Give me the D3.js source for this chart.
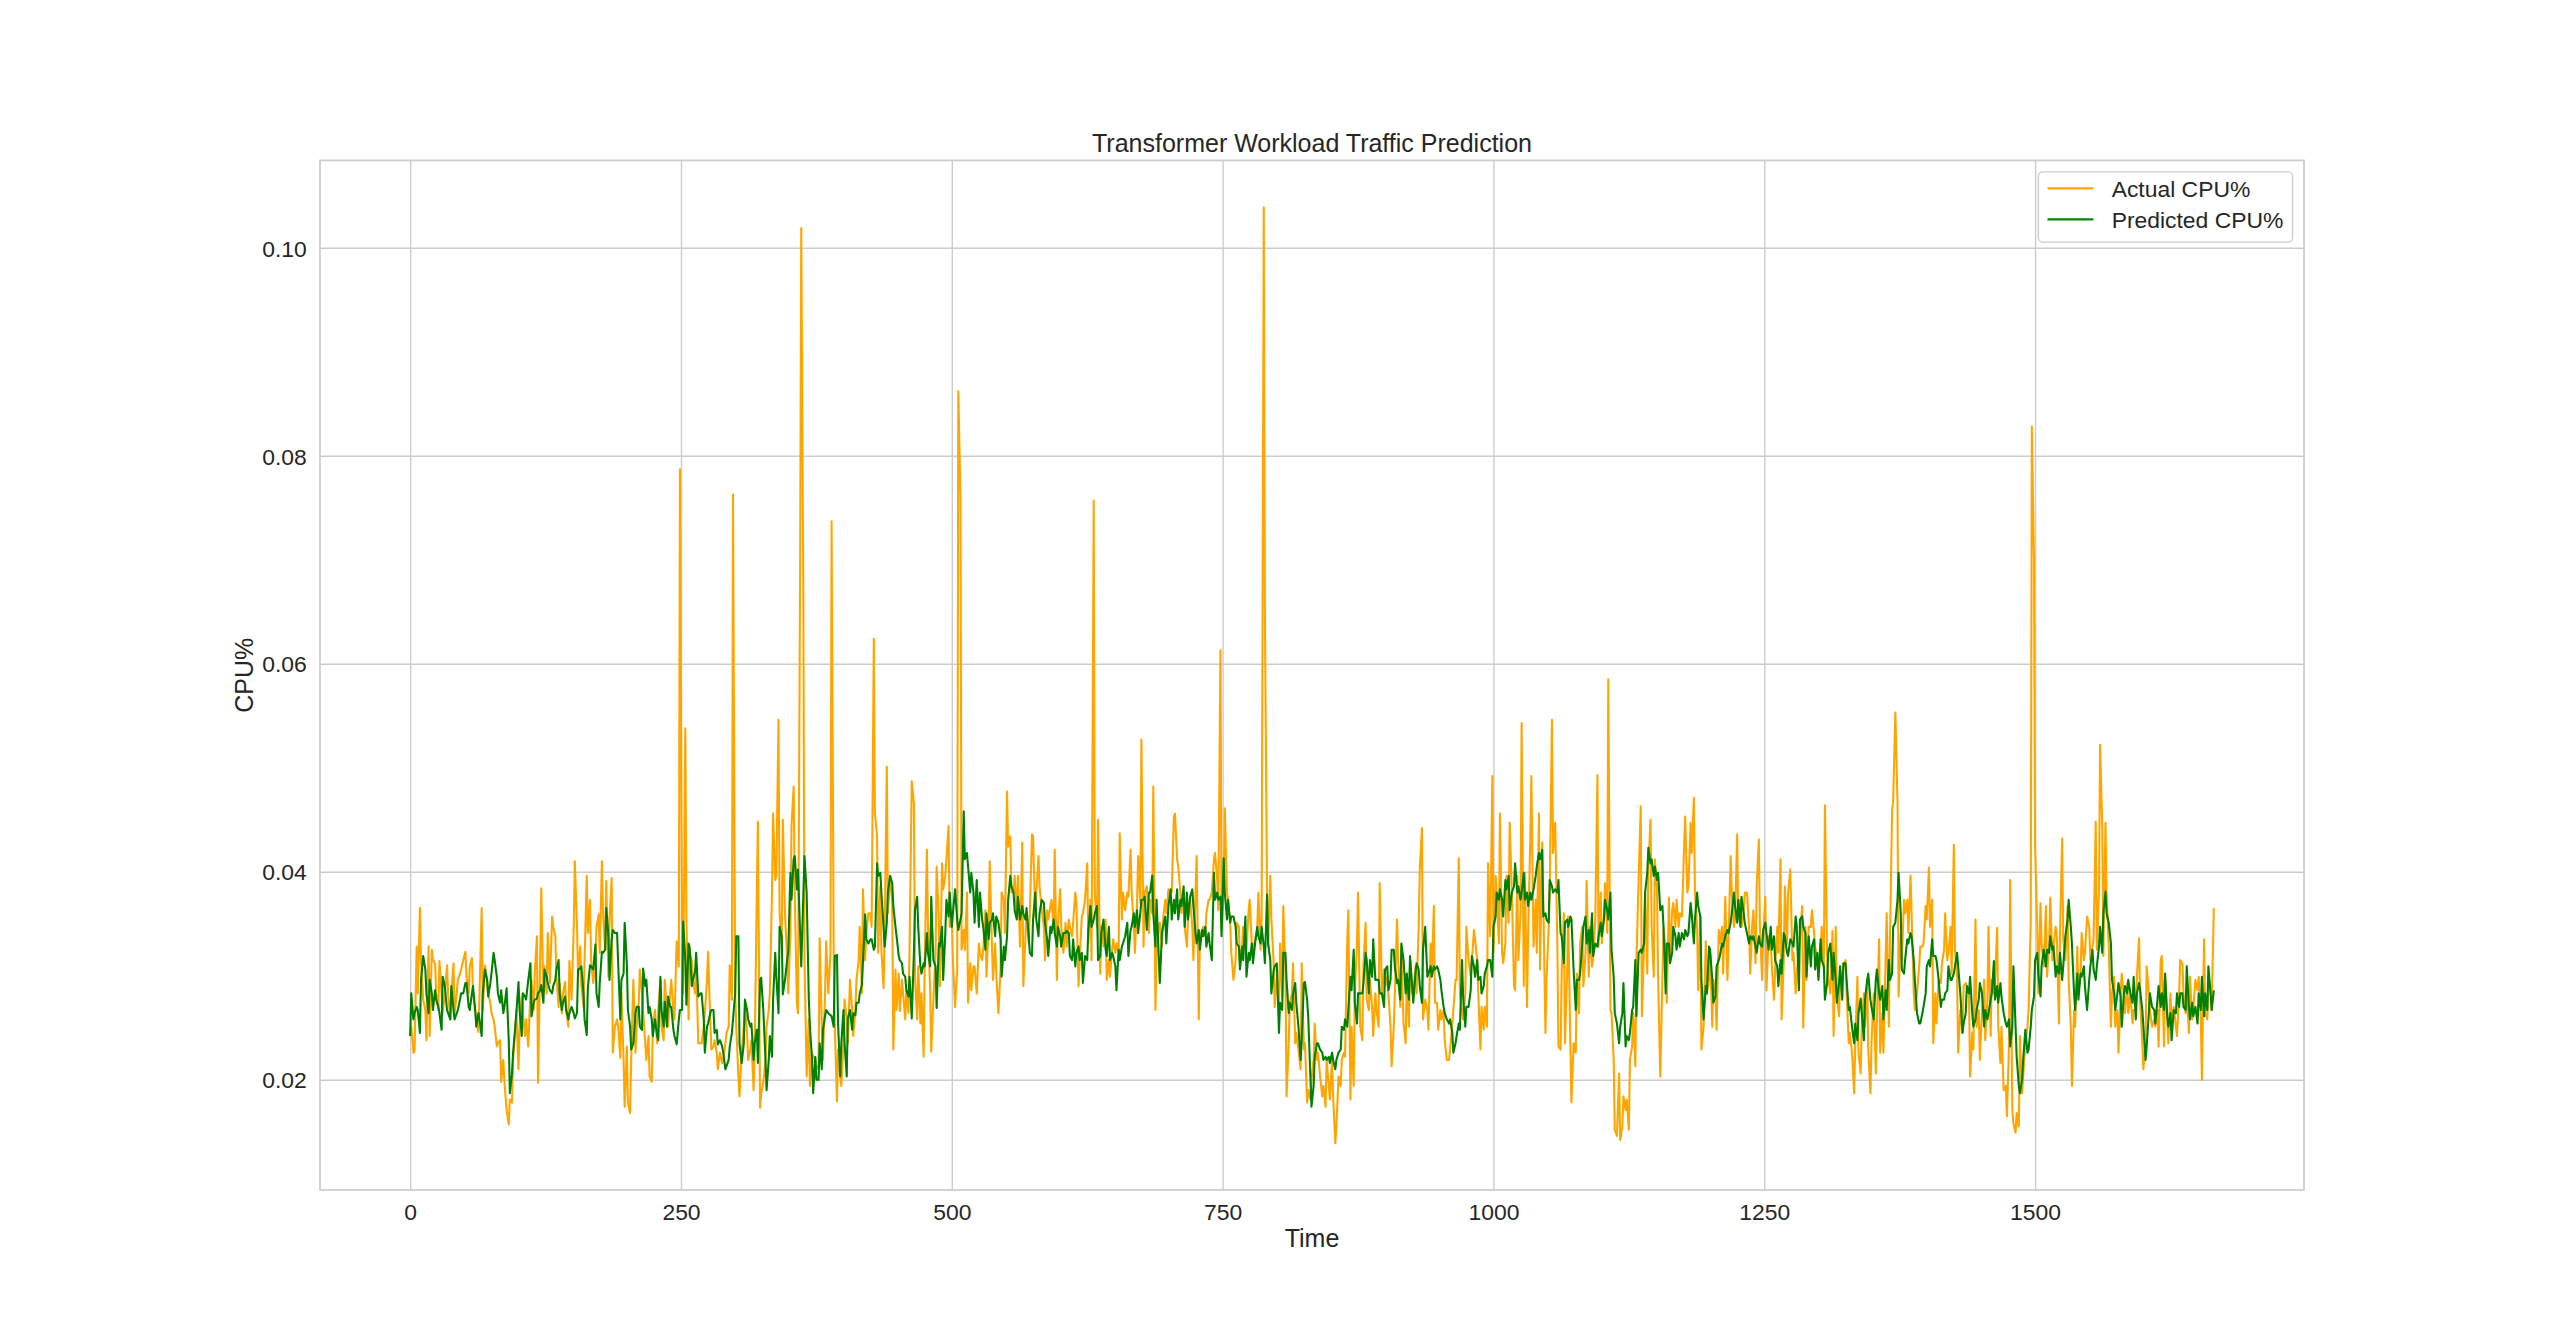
<!DOCTYPE html>
<html>
<head>
<meta charset="utf-8">
<script src="https://cdn.jsdelivr.net/npm/d3@7"></script>
<style>
  html, body { margin: 0; padding: 0; background: #fff; }
  svg text { font-family: "Liberation Sans", Arial, sans-serif; fill: #262626; }
</style>
</head>
<body>
<svg id="chart" width="2560" height="1337"></svg>
<script>
// time index of each sample
const timeSteps = [
0,1,3,4,6,7,9,10,12,14,15,17,18,20,21,23,24,26,27,29,30,32,34,35,37,38,40,41,43,44,
46,47,49,51,52,54,55,57,58,60,61,63,64,66,67,69,71,72,74,75,77,78,80,81,83,84,86,87,89,91,
92,94,95,97,98,100,101,103,104,106,107,109,111,112,114,115,117,118,120,121,
123,124,126,127,129,131,132,134,135,137,138,140,141,143,144,146,147,149,151,152,
154,155,157,158,160,161,163,164,166,167,169,171,172,174,175,177,178,180,181,183,
184,186,187,189,191,192,194,195,197,198,200,201,203,204,206,
208,209,211,212,214,215,217,218,220,221,223,224,226,228,229,231,232,234,235,237,
238,240,241,243,244,246,248,249,251,252,254,255,257,258,260,261,263,264,266,268,
269,271,272,274,275,277,278,280,281,283,284,286,288,289,291,292,294,295,297,298,
300,301,303,304,306,308,309,311,312,314,315,317,318,320,321,323,324,326,328,329,
331,332,334,335,337,338,340,341,343,344,346,348,349,351,352,354,355,357,358,360,
361,363,364,366,368,369,371,372,374,375,377,378,380,381,383,384,386,388,389,391,
392,394,395,397,398,400,401,403,404,406,408,409,411,412,414,415,417,418,420,421,423,
425,426,428,429,431,432,434,435,437,438,440,441,443,445,446,448,449,451,452,454,
455,457,458,460,461,463,465,466,468,469,471,472,474,475,477,478,480,481,483,485,
486,488,489,491,492,494,495,497,498,500,501,503,505,506,508,509,511,512,514,515,
517,518,520,521,523,525,526,528,529,531,532,534,535,537,538,540,541,543,545,546,
548,549,551,552,554,555,557,558,560,561,563,565,566,568,569,571,572,574,575,577,
578,580,581,583,585,586,588,589,591,592,594,595,597,598,600,601,603,605,606,608,
609,611,612,614,615,617,618,620,621,623,625,626,628,629,631,632,634,635,637,638,640,
642,643,645,646,648,649,651,652,654,655,657,658,660,662,663,665,666,668,669,671,
672,674,675,677,678,680,682,683,685,686,688,689,691,692,694,695,697,698,700,702,
703,705,706,708,709,711,712,714,715,717,718,720,722,723,725,726,728,729,731,732,
734,735,737,738,740,742,743,745,746,748,749,751,752,754,755,757,758,760,762,763,
765,766,768,769,771,772,774,775,777,778,780,782,783,785,786,788,789,791,792,794,
795,797,798,800,802,803,805,806,808,809,811,812,814,815,817,818,820,822,823,825,
826,828,829,831,832,834,835,837,838,840,842,843,845,846,848,849,851,852,854,855,857,
859,860,862,863,865,866,868,869,871,872,874,875,877,879,880,882,883,885,886,888,
889,891,892,894,895,897,899,900,902,903,905,906,908,909,911,912,914,915,917,919,
920,922,923,925,926,928,929,931,932,934,935,937,939,940,942,943,945,946,948,949,
951,952,954,955,957,959,960,962,963,965,966,968,969,971,972,974,975,977,979,980,
982,983,985,986,988,989,991,992,994,995,997,999,1000,1002,1003,1005,1006,1008,1009,1011,
1012,1014,1015,1017,1019,1020,1022,1023,1025,1026,1028,1029,1031,1032,1034,1035,1037,1039,1040,1042,
1043,1045,1046,1048,1049,1051,1052,1054,1055,1057,1059,1060,1062,1063,1065,1066,1068,1069,1071,1072,1074,
1076,1077,1079,1080,1082,1083,1085,1086,1088,1089,1091,1092,1094,1096,1097,1099,1100,1102,1103,1105,
1106,1108,1109,1111,1112,1114,1116,1117,1119,1120,1122,1123,1125,1126,1128,1129,1131,1132,1134,1136,
1137,1139,1140,1142,1143,1145,1146,1148,1149,1151,1152,1154,1156,1157,1159,1160,1162,1163,1165,1166,
1168,1169,1171,1172,1174,1176,1177,1179,1180,1182,1183,1185,1186,1188,1189,1191,1192,1194,1196,1197,
1199,1200,1202,1203,1205,1206,1208,1209,1211,1212,1214,1216,1217,1219,1220,1222,1223,1225,1226,1228,
1229,1231,1232,1234,1236,1237,1239,1240,1242,1243,1245,1246,1248,1249,1251,1252,1254,1256,1257,1259,
1260,1262,1263,1265,1266,1268,1269,1271,1272,1274,1276,1277,1279,1280,1282,1283,1285,1286,1288,1289,1291,
1293,1294,1296,1297,1299,1300,1302,1303,1305,1306,1308,1309,1311,1313,1314,1316,1317,1319,1320,1322,
1323,1325,1326,1328,1329,1331,1333,1334,1336,1337,1339,1340,1342,1343,1345,1346,1348,1349,1351,1353,
1354,1356,1357,1359,1360,1362,1363,1365,1366,1368,1369,1371,1373,1374,1376,1377,1379,1380,1382,1383,
1385,1386,1388,1389,1391,1393,1394,1396,1397,1399,1400,1402,1403,1405,1406,1408,1409,1411,1413,1414,
1416,1417,1419,1420,1422,1423,1425,1426,1428,1429,1431,1433,1434,1436,1437,1439,1440,1442,1443,1445,
1446,1448,1449,1451,1453,1454,1456,1457,1459,1460,1462,1463,1465,1466,1468,1469,1471,1473,1474,1476,
1477,1479,1480,1482,1483,1485,1486,1488,1489,1491,1493,1494,1496,1497,1499,1500,1502,1503,1505,1506,1508,
1510,1511,1513,1514,1516,1517,1519,1520,1522,1523,1525,1526,1528,1530,1531,1533,1534,1536,1537,1539,
1540,1542,1543,1545,1546,1548,1550,1551,1553,1554,1556,1557,1559,1560,1562,1563,1565,1566,1568,1570,
1571,1573,1574,1576,1577,1579,1580,1582,1583,1585,1586,1588,1590,1591,1593,1594,1596,1597,1599,1600,
1602,1603,1605,1606,1608,1610,1611,1613,1614,1616,1617,1619,1620,1622,1623,1625,1626,1628,1630,1631,
1633,1634,1636,1637,1639,1640,1642,1643,1645,1646,1648,1650,1651,1653,1654,1656,1657,1659,1660,1662,
1663,1665
]

const actualCpu = [
0.0242,0.0251,0.0226,0.0227,0.0328,0.0283,0.0365,0.0315,0.0277,0.0267,0.0238,0.0328,0.0242,0.0325,0.0315,0.0312,0.0283,0.0267,0.0314,0.0283,
0.0264,0.0283,0.0310,0.0283,0.0258,0.0283,0.0312,0.0264,0.0283,0.0296,0.0302,0.0306,0.0315,0.0323,0.0299,0.0283,0.0309,0.0317,0.0283,0.0267,
0.0258,0.0246,0.0283,0.0365,0.0267,0.0310,0.0296,0.0283,0.0274,0.0264,0.0258,0.0251,0.0232,0.0235,0.0238,0.0198,0.0219,0.0198,0.0171,0.0157,
0.0181,0.0178,0.0219,0.0248,0.0267,0.0210,0.0251,0.0280,0.0264,0.0242,0.0258,0.0232,0.0283,0.0296,0.0267,0.0302,0.0338,0.0197,0.0315,0.0384,
0.0283,0.0309,0.0283,0.0341,0.0293,0.0357,0.0347,0.0338,0.0299,0.0270,0.0293,0.0264,0.0283,0.0294,0.0267,0.0251,0.0314,0.0277,0.0347,0.0410,
0.0347,0.0299,0.0328,0.0290,0.0270,0.0315,0.0396,0.0341,0.0373,0.0315,0.0293,0.0315,0.0347,0.0359,0.0322,0.0410,0.0360,0.0325,0.0391,0.0299,
0.0354,0.0394,0.0226,0.0251,0.0258,0.0251,0.0221,0.0283,0.0219,0.0174,0.0232,0.0178,0.0168,0.0219,0.0296,
0.0226,0.0251,0.0274,0.0306,0.0283,0.0267,0.0235,0.0219,0.0242,0.0203,0.0198,0.0251,0.0267,0.0235,0.0267,0.0296,0.0251,0.0238,0.0296,0.0267,
0.0251,0.0283,0.0296,0.0267,0.0258,0.0333,0.0309,0.0787,0.0335,0.0283,0.0538,0.0354,0.0258,0.0322,0.0315,0.0296,0.0283,0.0309,0.0235,0.0235,
0.0235,0.0251,0.0264,0.0296,0.0323,0.0258,0.0229,0.0232,0.0238,0.0226,0.0210,0.0226,0.0216,0.0219,0.0235,0.0245,0.0251,0.0310,0.0277,0.0763,
0.0283,0.0251,0.0203,0.0184,0.0226,0.0251,0.0270,0.0245,0.0219,0.0229,0.0238,0.0190,0.0226,0.0380,0.0448,0.0173,0.0187,0.0197,0.0219,0.0251,
0.0267,0.0283,0.0380,0.0456,0.0392,0.0396,0.0546,0.0360,0.0331,0.0450,0.0360,0.0315,0.0283,0.0341,0.0444,0.0482,0.0380,0.0274,0.0264,0.0700,
0.1019,0.0650,0.0315,0.0203,0.0258,0.0194,0.0226,0.0222,0.0219,0.0213,0.0210,0.0336,0.0251,0.0219,0.0283,0.0333,0.0283,0.0322,0.0737,0.0315,
0.0251,0.0179,0.0229,0.0203,0.0194,0.0235,0.0277,0.0258,0.0235,0.0296,0.0267,0.0242,0.0267,0.0296,0.0315,0.0347,0.0283,0.0383,0.0315,0.0341,0.0360,
0.0360,0.0347,0.0624,0.0456,0.0434,0.0322,0.0386,0.0325,0.0288,0.0341,0.0501,0.0360,0.0396,0.0370,0.0229,0.0306,0.0267,0.0302,0.0266,0.0296,
0.0283,0.0258,0.0286,0.0264,0.0328,0.0487,0.0466,0.0299,0.0258,0.0309,0.0254,0.0283,0.0222,0.0315,0.0421,0.0347,0.0286,0.0227,0.0277,0.0322,
0.0405,0.0354,0.0290,0.0408,0.0383,0.0396,0.0412,0.0444,0.0347,0.0354,0.0315,0.0270,0.0306,0.0862,0.0760,0.0325,0.0344,0.0325,0.0380,0.0274,
0.0312,0.0286,0.0309,0.0309,0.0283,0.0331,0.0322,0.0315,0.0325,0.0363,0.0299,0.0347,0.0410,0.0331,0.0296,0.0331,0.0302,0.0264,0.0306,0.0380,
0.0373,0.0341,0.0477,0.0424,0.0434,0.0380,0.0380,0.0396,0.0357,0.0396,0.0328,0.0428,0.0290,0.0338,0.0360,0.0331,0.0360,0.0436,0.0434,0.0357,
0.0380,0.0415,0.0386,0.0363,0.0347,0.0315,0.0363,0.0354,0.0367,0.0373,0.0347,0.0421,0.0296,0.0351,0.0383,0.0347,0.0322,0.0351,0.0328,0.0354,
0.0347,0.0338,0.0351,0.0380,0.0370,0.0290,0.0315,0.0357,0.0360,0.0373,0.0408,0.0331,0.0373,0.0315,0.0757,0.0380,0.0347,0.0450,0.0302,0.0347,0.0328,
0.0354,0.0296,0.0315,0.0299,0.0325,0.0335,0.0322,0.0331,0.0322,0.0437,0.0354,0.0380,0.0363,0.0380,0.0376,0.0421,0.0380,0.0351,0.0322,0.0370,
0.0415,0.0370,0.0527,0.0328,0.0380,0.0386,0.0341,0.0373,0.0360,0.0482,0.0267,0.0319,0.0347,0.0351,0.0328,0.0354,0.0373,0.0360,0.0383,0.0380,
0.0380,0.0453,0.0456,0.0412,0.0405,0.0380,0.0360,0.0380,0.0347,0.0328,0.0354,0.0373,0.0347,0.0315,0.0380,0.0415,0.0258,0.0341,0.0341,0.0347,
0.0338,0.0360,0.0373,0.0373,0.0380,0.0412,0.0418,0.0392,0.0363,0.0613,0.0347,0.0380,0.0461,0.0380,0.0373,0.0351,0.0322,0.0296,0.0315,0.0351,
0.0347,0.0312,0.0328,0.0347,0.0328,0.0325,0.0363,0.0373,0.0328,0.0325,0.0335,0.0347,0.0380,0.0325,0.0354,0.1039,0.0650,0.0380,0.0328,0.0396,
0.0354,0.0315,0.0270,0.0299,0.0267,0.0331,0.0280,0.0367,0.0302,0.0184,0.0235,0.0274,0.0283,0.0312,0.0235,0.0245,0.0229,0.0210,0.0312,0.0229,
0.0235,0.0178,0.0190,0.0181,0.0200,0.0219,0.0254,0.0219,0.0226,0.0203,0.0184,0.0194,0.0174,0.0219,0.0194,0.0181,0.0219,0.0184,0.0139,0.0155,0.0203,
0.0194,0.0219,0.0226,0.0222,0.0331,0.0363,0.0181,0.0251,0.0194,0.0283,0.0331,0.0380,0.0251,0.0238,0.0312,0.0351,0.0277,0.0267,0.0296,0.0270,
0.0242,0.0283,0.0267,0.0251,0.0389,0.0283,0.0306,0.0290,0.0299,0.0283,0.0251,0.0213,0.0251,0.0283,0.0354,0.0315,0.0270,0.0325,0.0254,0.0235,
0.0302,0.0251,0.0315,0.0283,0.0283,0.0309,0.0283,0.0347,0.0402,0.0442,0.0258,0.0277,0.0267,0.0248,0.0331,0.0299,0.0367,0.0274,0.0274,0.0248,
0.0267,0.0258,0.0267,0.0238,0.0219,0.0219,0.0229,0.0254,0.0267,0.0296,0.0296,0.0413,0.0283,0.0267,0.0258,0.0283,0.0347,0.0315,0.0299,0.0312,
0.0344,0.0335,0.0315,0.0283,0.0229,0.0270,0.0248,0.0270,0.0251,0.0408,0.0338,0.0492,0.0322,0.0396,0.0380,0.0331,0.0456,0.0322,0.0312,0.0331,
0.0396,0.0351,0.0447,0.0380,0.0290,0.0286,0.0396,0.0315,0.0360,0.0543,0.0290,0.0399,0.0270,0.0338,0.0431,0.0492,0.0328,0.0373,0.0322,0.0456,
0.0306,0.0428,0.0373,0.0245,0.0296,0.0347,0.0386,0.0546,0.0418,0.0447,0.0331,0.0232,0.0229,0.0302,0.0360,0.0235,0.0302,0.0357,0.0235,0.0178,0.0235,
0.0226,0.0302,0.0264,0.0331,0.0347,0.0290,0.0322,0.0391,0.0299,0.0347,0.0309,0.0315,0.0354,0.0493,0.0328,0.0380,0.0331,0.0357,0.0389,0.0341,
0.0585,0.0267,0.0264,0.0219,0.0152,0.0146,0.0206,0.0142,0.0155,0.0184,0.0171,0.0181,0.0152,0.0219,0.0232,0.0264,0.0213,0.0315,0.0392,0.0463,
0.0261,0.0328,0.0380,0.0302,0.0405,0.0450,0.0347,0.0299,0.0412,0.0383,0.0299,0.0203,0.0299,0.0347,0.0322,0.0274,0.0375,0.0315,0.0363,0.0370,
0.0347,0.0373,0.0347,0.0360,0.0357,0.0424,0.0453,0.0380,0.0386,0.0447,0.0418,0.0471,0.0380,0.0347,0.0286,0.0357,0.0229,0.0251,0.0333,0.0283,
0.0296,0.0322,0.0251,0.0296,0.0283,0.0248,0.0344,0.0331,0.0347,0.0302,0.0376,0.0296,0.0335,0.0415,0.0380,0.0347,0.0354,0.0436,0.0354,0.0373,
0.0347,0.0360,0.0380,0.0380,0.0347,0.0302,0.0351,0.0363,0.0312,0.0386,0.0431,0.0347,0.0296,0.0338,0.0376,0.0286,0.0338,0.0331,0.0309,0.0277,
0.0306,0.0347,0.0322,0.0412,0.0258,0.0315,0.0386,0.0331,0.0380,0.0402,0.0315,0.0322,0.0283,0.0302,0.0325,0.0338,0.0367,0.0250,0.0347,0.0296,0.0347,
0.0347,0.0363,0.0341,0.0328,0.0315,0.0299,0.0322,0.0347,0.0309,0.0464,0.0322,0.0299,0.0283,0.0343,0.0242,0.0347,0.0283,0.0261,0.0293,0.0299,
0.0309,0.0315,0.0283,0.0235,0.0245,0.0226,0.0187,0.0235,0.0299,0.0226,0.0206,0.0251,0.0283,0.0251,0.0296,0.0229,0.0187,0.0235,0.0283,0.0206,
0.0258,0.0335,0.0226,0.0264,0.0226,0.0315,0.0360,0.0251,0.0331,0.0458,0.0469,0.0553,0.0466,0.0280,0.0341,0.0315,0.0373,0.0360,0.0373,0.0341,
0.0396,0.0360,0.0283,0.0267,0.0283,0.0309,0.0328,0.0328,0.0331,0.0367,0.0354,0.0404,0.0347,0.0373,0.0235,0.0283,0.0254,0.0296,0.0293,0.0312,
0.0325,0.0360,0.0315,0.0322,0.0347,0.0302,0.0426,0.0325,0.0299,0.0226,0.0267,0.0245,0.0290,0.0293,0.0290,0.0283,0.0203,0.0245,0.0229,0.0354,
0.0251,0.0267,0.0219,0.0267,0.0296,0.0238,0.0277,0.0347,0.0242,0.0296,0.0283,0.0296,0.0346,0.0251,0.0216,0.0251,0.0190,0.0194,0.0165,0.0235,
0.0392,0.0171,0.0158,0.0149,0.0168,0.0155,0.0242,0.0187,0.0203,0.0235,0.0251,0.0267,0.0352,0.0828,0.0700,0.0424,0.0347,0.0283,0.0370,0.0331,0.0309,
0.0367,0.0299,0.0331,0.0375,0.0315,0.0328,0.0347,0.0341,0.0254,0.0341,0.0432,0.0335,0.0315,0.0367,0.0296,0.0251,0.0194,0.0267,0.0251,0.0328,
0.0283,0.0302,0.0341,0.0315,0.0322,0.0357,0.0347,0.0315,0.0328,0.0335,0.0448,0.0325,0.0380,0.0522,0.0444,0.0319,0.0447,0.0380,0.0328,0.0251,
0.0283,0.0299,0.0251,0.0267,0.0226,0.0283,0.0302,0.0280,0.0264,0.0293,0.0264,0.0283,0.0254,0.0267,0.0267,0.0299,0.0336,0.0274,0.0235,0.0210,
0.0235,0.0309,0.0283,0.0267,0.0251,0.0258,0.0251,0.0267,0.0232,0.0315,0.0319,0.0232,0.0299,0.0258,0.0235,0.0283,0.0254,0.0270,0.0251,0.0242,
0.0283,0.0315,0.0312,0.0283,0.0264,0.0283,0.0245,0.0299,0.0258,0.0267,0.0296,0.0286,0.0299,0.0258,0.0200,0.0335,0.0264,0.0258,0.0296,0.0290,
0.0267,0.0365
]

const predictedCpu = [
0.0242,0.0283,0.0258,0.0264,0.0270,0.0267,0.0245,0.0296,0.0319,0.0306,0.0283,0.0264,0.0296,0.0283,0.0267,0.0286,0.0277,0.0270,0.0264,0.0248,
0.0299,0.0290,0.0267,0.0264,0.0258,0.0290,0.0267,0.0258,0.0264,0.0267,0.0277,0.0283,0.0283,0.0293,0.0293,0.0270,0.0267,0.0283,0.0290,0.0267,
0.0251,0.0264,0.0258,0.0242,0.0283,0.0306,0.0296,0.0280,0.0293,0.0302,0.0322,0.0315,0.0299,0.0283,0.0274,0.0286,0.0264,0.0270,0.0288,0.0238,
0.0187,0.0206,0.0226,0.0251,0.0264,0.0294,0.0267,0.0242,0.0283,0.0280,0.0277,0.0296,0.0312,0.0261,0.0274,0.0277,0.0278,0.0283,0.0286,0.0291,
0.0274,0.0306,0.0299,0.0293,0.0286,0.0283,0.0290,0.0296,0.0306,0.0315,0.0283,0.0267,0.0274,0.0280,0.0267,0.0258,0.0264,0.0270,0.0264,0.0259,
0.0264,0.0306,0.0307,0.0309,0.0283,0.0258,0.0243,0.0288,0.0310,0.0309,0.0306,0.0330,0.0283,0.0270,0.0293,0.0323,0.0322,0.0325,0.0365,0.0338,
0.0296,0.0335,0.0344,0.0341,0.0341,0.0312,0.0258,0.0296,0.0302,0.0351,0.0312,0.0267,0.0251,0.0229,0.0235,
0.0264,0.0270,0.0270,0.0251,0.0248,0.0307,0.0290,0.0296,0.0264,0.0270,0.0258,0.0242,0.0258,0.0242,0.0238,0.0299,0.0267,0.0251,0.0275,0.0251,
0.0280,0.0270,0.0270,0.0248,0.0242,0.0234,0.0258,0.0267,0.0267,0.0352,0.0315,0.0272,0.0331,0.0327,0.0290,0.0296,0.0304,0.0322,0.0280,0.0283,
0.0283,0.0258,0.0226,0.0251,0.0254,0.0264,0.0267,0.0267,0.0245,0.0248,0.0234,0.0238,0.0232,0.0226,0.0210,0.0213,0.0219,0.0232,0.0245,0.0258,
0.0283,0.0338,0.0338,0.0235,0.0216,0.0235,0.0277,0.0267,0.0258,0.0251,0.0254,0.0219,0.0235,0.0248,0.0216,0.0296,0.0298,0.0267,0.0219,0.0190,
0.0219,0.0242,0.0222,0.0277,0.0322,0.0299,0.0264,0.0347,0.0338,0.0282,0.0296,0.0315,0.0323,0.0399,0.0373,0.0412,0.0415,0.0383,0.0402,0.0341,
0.0309,0.0380,0.0415,0.0380,0.0277,0.0251,0.0219,0.0187,0.0222,0.0200,0.0200,0.0235,0.0210,0.0248,0.0261,0.0267,0.0264,0.0262,0.0261,0.0251,
0.0319,0.0320,0.0254,0.0203,0.0235,0.0267,0.0235,0.0203,0.0259,0.0267,0.0248,0.0264,0.0262,0.0274,0.0274,0.0283,0.0291,0.0314,0.0359,0.0335,0.0331,
0.0335,0.0335,0.0325,0.0328,0.0408,0.0396,0.0399,0.0380,0.0347,0.0328,0.0351,0.0380,0.0396,0.0389,0.0367,0.0347,0.0338,0.0319,0.0315,0.0312,
0.0302,0.0299,0.0286,0.0280,0.0299,0.0259,0.0322,0.0363,0.0376,0.0347,0.0309,0.0302,0.0312,0.0309,0.0341,0.0322,0.0309,0.0376,0.0315,0.0309,
0.0269,0.0331,0.0328,0.0347,0.0296,0.0341,0.0373,0.0357,0.0380,0.0347,0.0360,0.0383,0.0354,0.0344,0.0354,0.0360,0.0458,0.0412,0.0418,0.0405,
0.0380,0.0399,0.0380,0.0351,0.0392,0.0347,0.0380,0.0354,0.0347,0.0325,0.0360,0.0335,0.0351,0.0354,0.0360,0.0338,0.0357,0.0351,0.0335,0.0299,
0.0328,0.0315,0.0338,0.0373,0.0396,0.0386,0.0380,0.0363,0.0354,0.0376,0.0354,0.0367,0.0360,0.0354,0.0365,0.0338,0.0322,0.0319,0.0354,0.0380,
0.0354,0.0338,0.0360,0.0373,0.0370,0.0351,0.0335,0.0319,0.0347,0.0341,0.0354,0.0341,0.0328,0.0347,0.0338,0.0328,0.0341,0.0341,0.0343,0.0341,
0.0319,0.0315,0.0335,0.0309,0.0322,0.0328,0.0315,0.0322,0.0293,0.0319,0.0315,0.0344,0.0367,0.0347,0.0354,0.0360,0.0367,0.0315,0.0319,0.0341,0.0354,
0.0325,0.0319,0.0347,0.0315,0.0322,0.0319,0.0309,0.0286,0.0325,0.0315,0.0328,0.0331,0.0338,0.0351,0.0319,0.0344,0.0347,0.0360,0.0347,0.0363,
0.0341,0.0360,0.0373,0.0373,0.0376,0.0344,0.0380,0.0380,0.0396,0.0360,0.0328,0.0373,0.0319,0.0293,0.0341,0.0347,0.0357,0.0331,0.0367,0.0383,
0.0354,0.0373,0.0360,0.0383,0.0354,0.0373,0.0367,0.0386,0.0347,0.0380,0.0354,0.0376,0.0383,0.0367,0.0341,0.0331,0.0344,0.0325,0.0344,0.0338,
0.0347,0.0328,0.0341,0.0331,0.0315,0.0399,0.0373,0.0380,0.0373,0.0376,0.0338,0.0413,0.0380,0.0354,0.0373,0.0351,0.0357,0.0357,0.0347,0.0331,
0.0328,0.0306,0.0328,0.0315,0.0357,0.0299,0.0322,0.0315,0.0331,0.0312,0.0331,0.0347,0.0338,0.0331,0.0347,0.0328,0.0312,0.0378,0.0331,0.0315,
0.0283,0.0304,0.0309,0.0312,0.0245,0.0274,0.0267,0.0322,0.0322,0.0296,0.0264,0.0274,0.0267,0.0283,0.0293,0.0274,0.0251,0.0219,0.0238,0.0293,
0.0294,0.0277,0.0261,0.0203,0.0174,0.0194,0.0222,0.0235,0.0235,0.0229,0.0226,0.0219,0.0222,0.0219,0.0222,0.0216,0.0226,0.0219,0.0210,0.0219,0.0226,
0.0229,0.0251,0.0248,0.0258,0.0251,0.0267,0.0299,0.0286,0.0325,0.0274,0.0254,0.0283,0.0283,0.0283,0.0293,0.0322,0.0315,0.0283,0.0315,0.0299,
0.0335,0.0296,0.0296,0.0296,0.0283,0.0283,0.0270,0.0306,0.0309,0.0286,0.0296,0.0325,0.0325,0.0309,0.0293,0.0296,0.0277,0.0331,0.0315,0.0283,
0.0302,0.0277,0.0319,0.0290,0.0274,0.0302,0.0312,0.0306,0.0290,0.0274,0.0325,0.0347,0.0299,0.0302,0.0309,0.0299,0.0309,0.0306,0.0309,0.0306,
0.0296,0.0286,0.0270,0.0264,0.0258,0.0254,0.0258,0.0245,0.0226,0.0235,0.0242,0.0254,0.0248,0.0315,0.0280,0.0251,0.0270,0.0270,0.0286,0.0319,
0.0309,0.0299,0.0315,0.0296,0.0299,0.0283,0.0290,0.0302,0.0309,0.0315,0.0315,0.0299,0.0347,0.0357,0.0380,0.0373,0.0383,0.0373,0.0357,0.0392,
0.0383,0.0396,0.0363,0.0380,0.0386,0.0408,0.0380,0.0386,0.0373,0.0380,0.0399,0.0373,0.0380,0.0367,0.0380,0.0373,0.0383,0.0396,0.0405,0.0418,
0.0412,0.0421,0.0357,0.0360,0.0354,0.0351,0.0392,0.0386,0.0380,0.0383,0.0380,0.0392,0.0341,0.0338,0.0312,0.0351,0.0354,0.0347,0.0357,0.0354,0.0306,
0.0267,0.0296,0.0296,0.0302,0.0331,0.0347,0.0357,0.0331,0.0344,0.0322,0.0360,0.0319,0.0331,0.0328,0.0338,0.0351,0.0338,0.0354,0.0373,0.0363,
0.0354,0.0380,0.0325,0.0299,0.0264,0.0254,0.0235,0.0251,0.0264,0.0293,0.0232,0.0242,0.0238,0.0245,0.0267,0.0270,0.0315,0.0261,0.0322,0.0325,
0.0322,0.0331,0.0380,0.0399,0.0423,0.0408,0.0412,0.0396,0.0405,0.0392,0.0399,0.0363,0.0367,0.0347,0.0283,0.0331,0.0331,0.0312,0.0322,0.0347,
0.0338,0.0325,0.0341,0.0328,0.0341,0.0335,0.0344,0.0338,0.0341,0.0370,0.0360,0.0331,0.0354,0.0380,0.0367,0.0357,0.0296,0.0258,0.0290,0.0283,
0.0328,0.0325,0.0296,0.0274,0.0280,0.0309,0.0315,0.0319,0.0331,0.0328,0.0338,0.0344,0.0341,0.0351,0.0360,0.0380,0.0367,0.0351,0.0373,0.0347,
0.0376,0.0360,0.0351,0.0341,0.0331,0.0338,0.0335,0.0338,0.0328,0.0322,0.0338,0.0331,0.0328,0.0344,0.0351,0.0341,0.0325,0.0347,0.0325,0.0338,
0.0315,0.0309,0.0290,0.0315,0.0302,0.0341,0.0338,0.0322,0.0319,0.0335,0.0331,0.0328,0.0357,0.0347,0.0286,0.0354,0.0357,0.0347,0.0341,0.0299,0.0338,
0.0309,0.0328,0.0335,0.0306,0.0322,0.0296,0.0335,0.0315,0.0309,0.0277,0.0293,0.0322,0.0331,0.0296,0.0322,0.0296,0.0274,0.0293,0.0309,0.0277,
0.0312,0.0312,0.0296,0.0267,0.0270,0.0251,0.0235,0.0254,0.0238,0.0264,0.0278,0.0264,0.0238,0.0277,0.0296,0.0302,0.0277,0.0270,0.0258,0.0296,
0.0306,0.0283,0.0277,0.0290,0.0258,0.0286,0.0267,0.0315,0.0296,0.0302,0.0347,0.0351,0.0373,0.0399,0.0360,0.0306,0.0302,0.0315,0.0335,0.0331,
0.0341,0.0338,0.0315,0.0296,0.0264,0.0254,0.0254,0.0264,0.0270,0.0283,0.0309,0.0315,0.0309,0.0335,0.0319,0.0319,0.0315,0.0296,0.0270,0.0277,
0.0277,0.0283,0.0286,0.0309,0.0296,0.0296,0.0302,0.0309,0.0322,0.0309,0.0283,0.0245,0.0254,0.0264,0.0290,0.0283,0.0299,0.0264,0.0251,0.0258,
0.0267,0.0277,0.0293,0.0283,0.0251,0.0267,0.0258,0.0264,0.0277,0.0283,0.0314,0.0277,0.0290,0.0274,0.0293,0.0280,0.0264,0.0254,0.0251,0.0258,
0.0232,0.0251,0.0309,0.0251,0.0222,0.0194,0.0187,0.0200,0.0219,0.0248,0.0226,0.0229,0.0251,0.0267,0.0280,0.0315,0.0322,0.0302,0.0280,0.0309,0.0325,
0.0309,0.0325,0.0322,0.0338,0.0325,0.0328,0.0299,0.0309,0.0302,0.0322,0.0296,0.0309,0.0338,0.0354,0.0373,0.0347,0.0331,0.0283,0.0267,0.0302,
0.0277,0.0302,0.0299,0.0309,0.0290,0.0267,0.0296,0.0309,0.0325,0.0306,0.0296,0.0309,0.0328,0.0347,0.0322,0.0360,0.0381,0.0360,0.0351,0.0331,
0.0296,0.0283,0.0267,0.0283,0.0293,0.0280,0.0251,0.0283,0.0290,0.0283,0.0296,0.0283,0.0274,0.0299,0.0258,0.0283,0.0293,0.0286,0.0267,0.0251,
0.0219,0.0232,0.0264,0.0283,0.0270,0.0267,0.0254,0.0277,0.0290,0.0270,0.0283,0.0267,0.0302,0.0261,0.0251,0.0264,0.0238,0.0267,0.0264,0.0283,
0.0270,0.0283,0.0283,0.0270,0.0267,0.0309,0.0270,0.0258,0.0274,0.0261,0.0270,0.0254,0.0283,0.0267,0.0299,0.0261,0.0283,0.0267,0.0309,0.0283,
0.0267,0.0286
]

const seriesNames = ["Actual CPU%", "Predicted CPU%"]
const seriesColors = ["orange", "green"]
const xTickValues = [0, 250, 500, 750, 1000, 1250, 1500]
const yTickValues = [0.02, 0.04, 0.06, 0.08, 0.10]

if (timeSteps.length !== actualCpu.length || timeSteps.length !== predictedCpu.length)
	console.warn("length mismatch", timeSteps.length, actualCpu.length, predictedCpu.length)

// matplotlib-like layout: figure 2560x1337, subplot box 0.125..0.9 x 0.11..0.88
var W = 2560, H = 1337
var margin = {top: H*0.12, right: W*0.1, bottom: H*0.11, left: W*0.125},
	width = W - margin.left - margin.right,
	height = H - margin.top - margin.bottom

var svg = d3.select("#chart")
svg.append("rect").attr("width", W).attr("height", H).attr("fill", "#fff")

var g = svg.append("g")
		.attr("transform", "translate(" + margin.left + "," + margin.top + ")")

// 5% autoscale margins, like matplotlib
var tExt = d3.extent(timeSteps)
var tPad = (tExt[1] - tExt[0]) * 0.05
var x_scale = d3.scaleLinear()
		.domain([tExt[0] - tPad, tExt[1] + tPad])
		.range([0, width])

var vExt = d3.extent(actualCpu.concat(predictedCpu))
var vPad = (vExt[1] - vExt[0]) * 0.05
var y_scale = d3.scaleLinear()
		.domain([vExt[0] - vPad, vExt[1] + vPad])
		.range([height, 0])

// grid + tick labels
var xaxis = d3.axisBottom(x_scale)
		.tickValues(xTickValues)
		.tickSize(-height)
		.tickFormat(d3.format("d"))

var yaxis = d3.axisLeft(y_scale)
		.tickValues(yTickValues)
		.tickSize(-width)
		.tickFormat(d3.format(".2f"))

var gx = g.append("g")
		.attr("transform", "translate(0," + height + ")")
		.call(xaxis)
gx.select(".domain").remove()
gx.selectAll("line").attr("stroke", "#cccccc").attr("stroke-width", 1.39)
gx.selectAll("text")
	.attr("y", 29.6).attr("dy", null)
	.style("font-size", "22.9px").style("fill", "#262626")

var gy = g.append("g").call(yaxis)
gy.select(".domain").remove()
gy.selectAll("line").attr("stroke", "#cccccc").attr("stroke-width", 1.39)
gy.selectAll("text")
	.attr("x", -13.2).attr("dy", "0.36em")
	.style("font-size", "22.9px").style("fill", "#262626")

// series
var series = [
	{name: seriesNames[0], color: seriesColors[0], vals: actualCpu},
	{name: seriesNames[1], color: seriesColors[1], vals: predictedCpu}
]

g.append("clipPath").attr("id", "plotclip")
	.append("rect").attr("width", width).attr("height", height)

const line = d3.line()
	.x(function(d, i) { return x_scale(timeSteps[i]) })
	.y(function(d) { return y_scale(d) })

g.append("g").attr("clip-path", "url(#plotclip)")
	.selectAll("path")
	.data(series)
	.enter()
	.append("path")
	.attr("d", function(d) { return line(d.vals) })
	.attr("fill", "none")
	.attr("stroke", function(d) { return d.color })
	.attr("stroke-width", 2.08)
	.attr("stroke-linejoin", "round")

// spines
g.append("rect")
	.attr("width", width).attr("height", height)
	.attr("fill", "none")
	.attr("stroke", "#cccccc")
	.attr("stroke-width", 1.74)

// title and axis labels
g.append("text")
	.attr("x", width / 2).attr("y", -8.7)
	.style("text-anchor", "middle")
	.style("font-size", "25px")
	.text("Transformer Workload Traffic Prediction")

g.append("text")
	.attr("x", width / 2).attr("y", height + 57.4)
	.style("text-anchor", "middle")
	.style("font-size", "25px")
	.text("Time")

g.append("text")
	.attr("transform", "translate(-67," + (height / 2) + ") rotate(-90)")
	.style("text-anchor", "middle")
	.style("font-size", "25px")
	.text("CPU%")

// legend, upper right
var fs = 22.9
var leg = g.append("g")
var legRect = leg.append("rect")
var labels = leg.selectAll("text.serie_label")
	.data(series)
	.enter()
	.append("text")
	.attr("class", "serie_label")
	.style("font-size", fs + "px")
	.text(function(d) { return d.name })

var textW = d3.max(labels.nodes(), function(n) { return n.getComputedTextLength() })
var boxW = 0.4*fs + 2.0*fs + 0.8*fs + textW + 0.4*fs
var boxH = 70.2
var boxX = width - 0.5*fs - boxW
var boxY = 0.5*fs

legRect.attr("x", boxX).attr("y", boxY)
	.attr("width", boxW).attr("height", boxH)
	.attr("rx", 0.2*fs).attr("ry", 0.2*fs)
	.attr("fill", "#fff").attr("fill-opacity", 0.8)
	.attr("stroke", "#cccccc").attr("stroke-width", 1.39)

var rowY = [boxY + 16.5, boxY + 47.5]
leg.selectAll("line.handle")
	.data(series)
	.enter()
	.append("line")
	.attr("class", "handle")
	.attr("x1", boxX + 0.4*fs).attr("x2", boxX + 2.4*fs)
	.attr("y1", function(d, i) { return rowY[i] })
	.attr("y2", function(d, i) { return rowY[i] })
	.attr("stroke", function(d) { return d.color })
	.attr("stroke-width", 2.08)

labels
	.attr("x", boxX + 3.2*fs)
	.attr("y", function(d, i) { return rowY[i] + 8.5 })
</script>
</body>
</html>
